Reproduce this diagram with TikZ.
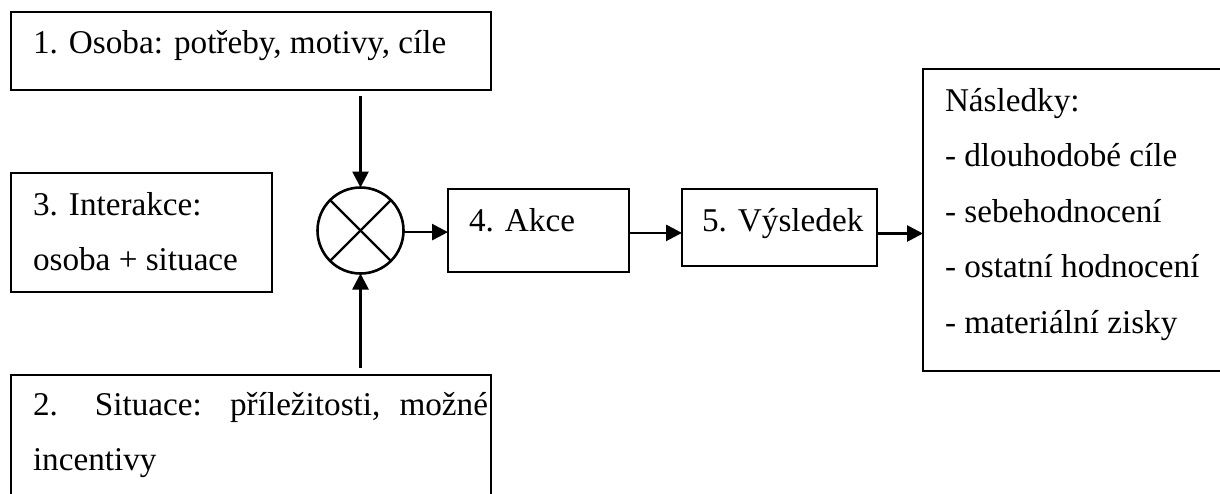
\documentclass[tikz,border=0pt]{standalone}
\usepackage{fontspec}
\setmainfont{Liberation Serif}
\usetikzlibrary{arrows.meta,shapes.geometric}
\begin{document}
\begin{tikzpicture}[x=0.5pt,y=-0.5pt,
  box/.style={draw=black,line width=0.9pt,rectangle,inner sep=0pt,outer sep=0pt},
  txt/.style={anchor=base west,inner sep=0pt,outer sep=0pt,font=\fontsize{16.6pt}{20pt}\selectfont},
  arr/.style={line width=1.35pt,-{Triangle[length=8pt,width=8pt]}},
  mult/.style={draw=black,line width=1.3pt,circle,inner sep=0pt,outer sep=0pt,minimum size=43pt}]
\useasboundingbox (0,0) rectangle (1220,493);
% boxes
\node[box,minimum width=240pt,minimum height=39pt] (b1) at (251,51) {};
\node[box,minimum width=130.5pt,minimum height=59.5pt] (b3) at (141.5,232.5) {};
\node[box,minimum width=240pt,minimum height=72.5pt] (b2) at (251,447.5) {};
\node[box,minimum width=90.5pt,minimum height=41.5pt] (b4) at (538.5,230.5) {};
\node[box,minimum width=97.5pt,minimum height=38.5pt] (b5) at (779.5,227.5) {};
\node[box,minimum width=168.5pt,minimum height=151pt] (nas) at (1091.5,220) {};
\node[mult] (c) at (360.5,230.5) {};
\draw[line width=1.2pt] (c.north east) -- (c.south west);
\draw[line width=1.2pt] (c.north west) -- (c.south east);
% texts
\node[txt] (t1) at (33,53) {1. Osoba: potřeby, motivy, cíle};
\node[txt] (t3a) at (33,215) {3. Interakce:};
\node[txt] (t3b) at (33,270) {osoba + situace};
\node[txt] (t2a) at (33,415) {\makebox[227.5pt][s]{2. Situace: příležitosti, možné}};
\node[txt] (t2b) at (33,470) {incentivy};
\node[txt] (t4) at (469,231) {4. Akce};
\node[txt] (t5) at (702,231) {5. Výsledek};
\node[txt] (n0) at (945,111) {Následky:};
\node[txt] (n1) at (945,166.5) {- dlouhodobé cíle};
\node[txt] (n2) at (945,222) {- sebehodnocení};
\node[txt] (n3) at (945,277.5) {- ostatní hodnocení};
\node[txt] (n4) at (945,333) {- materiální zisky};
% connectors
\draw[arr,shorten <=3pt] (b1.south -| c.north) -- (c.north);
\draw[arr,shorten <=3.5pt] (b2.north -| c.south) -- (c.south);
\path ([yshift=-0.8pt]c.east) coordinate (co);
\draw[arr] (co) -- (co -| b4.west);
\path ([yshift=-1.2pt]b4.east) coordinate (b4o);
\draw[arr] (b4o) -- (b4o -| b5.west);
\path ([yshift=-3pt]b5.east) coordinate (b5o);
\draw[arr] (b5o) -- (b5o -| nas.west);
\end{tikzpicture}
\end{document}
